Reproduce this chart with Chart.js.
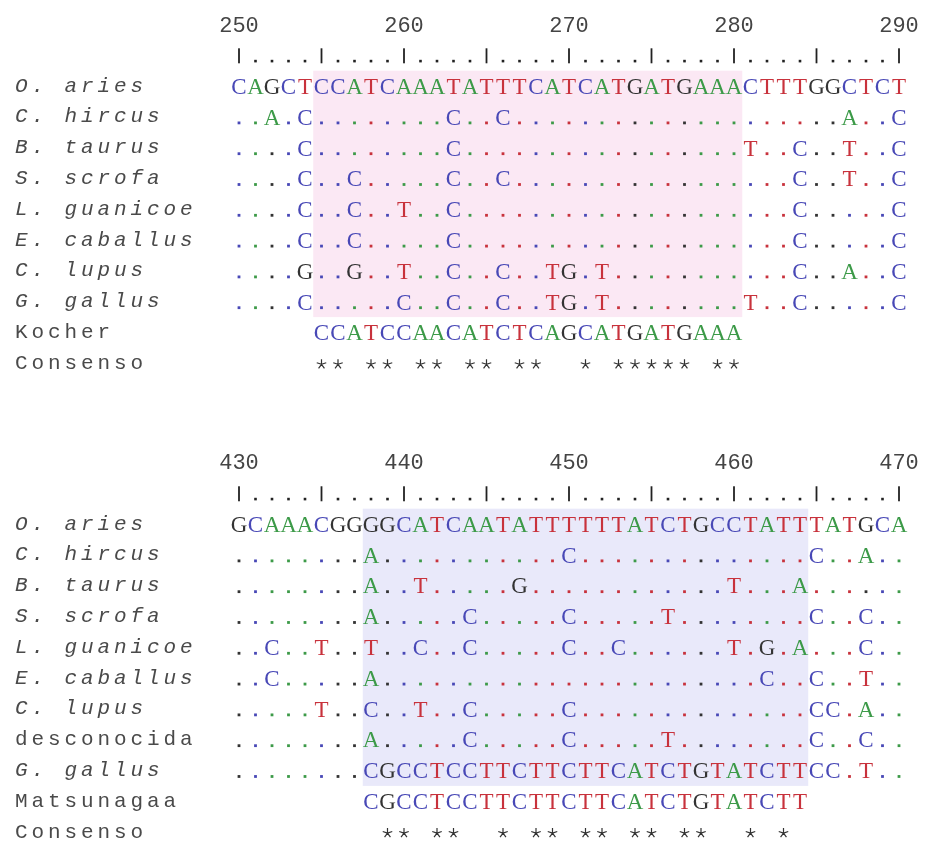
<!DOCTYPE html>
<html>
<head>
<meta charset="utf-8">
<script src="https://cdn.jsdelivr.net/npm/chart.js@4.4.1/dist/chart.umd.min.js"></script>
<style>
  html, body { margin: 0; padding: 0; background: #fff; }
  #wrap { width: 929px; height: 846px; }
</style>
</head>
<body>
<div id="wrap"><canvas id="alignment" width="929" height="846"></canvas></div>
<script>
// first block: positions 250-290, Kocher primer
const topStart = 250;
const topTicks = [250, 260, 270, 280, 290];
const topNames = ["O. aries", "C. hircus", "B. taurus", "S. scrofa", "L. guanicoe", "E. caballus", "C. lupus", "G. gallus", "Kocher", "Consenso"];
const topSeqs = [
  "CAGCTCCATCAAATATTTCATCATGATGAAACTTTGGCTCT",
  "..A.C........C..C....................A..C",
  "....C........C.................T..C..T..C",
  "....C..C.....C..C.................C..T..C",
  "....C..C..T..C....................C.....C",
  "....C..C.....C....................C.....C",
  "....G..G..T..C..C..TG.T...........C..A..C",
  "....C.....C..C..C..TG.T........T..C.....C",
  "     CCATCCAACATCTCAGCATGATGAAA          ",
  "     ** ** ** ** **  * ***** **          "
];
const topBox = [255, 280];

// second block: positions 430-470, Matsunagaa primer
const bottomStart = 430;
const bottomTicks = [430, 440, 450, 460, 470];
const bottomNames = ["O. aries", "C. hircus", "B. taurus", "S. scrofa", "L. guanicoe", "E. caballus", "C. lupus", "desconocida", "G. gallus", "Matsunagaa", "Consenso"];
const bottomSeqs = [
  "GCAAACGGGGCATCAATATTTTTTATCTGCCTATTTATGCA",
  "........A...........C..............C..A..",
  "........A..T.....G............T...A......",
  "........A.....C.....C.....T........C..C..",
  "..C..T..T..C..C.....C..C......T.G.A...C..",
  "..C.....A.......................C..C..T..",
  ".....T..C..T..C.....C..............CC.A..",
  "........A.....C.....C.....T........C..C..",
  "........CGCCTCCTTCTTCTTCATCTGTATCTTCC.T..",
  "        CGCCTCCTTCTTCTTCATCTGTATCTT      ",
  "         ** **  * ** ** ** **  * *       "
];
const bottomBox = [438, 464];

const baseColors = { A: "#3c9a48", C: "#4848b6", G: "#333333", T: "#c8323c" };

// layout in row units / columns
const colWidth = 16.5;
const rowHeight = 30.8;
const firstColPx = 239;
const blocks = [
  { axis: "x", start: topStart, ticks: topTicks, names: topNames, seqs: topSeqs, box: topBox, row0: 0, shade: "#fbe8f4" },
  { axis: "x2", start: bottomStart, ticks: bottomTicks, names: bottomNames, seqs: bottomSeqs, box: bottomBox, row0: 14.22, shade: "#e9e9fa" }
];

const datasets = [];
const nameRows = [];
const nameList = [];

blocks.forEach(function (b) {
  datasets.push({
    kind: "number", xAxisID: b.axis,
    data: b.ticks.map(t => ({ x: t, y: b.row0 })),
    chars: b.ticks.map(String)
  });
  const ruler = [];
  for (let p = b.ticks[0]; p <= b.ticks[b.ticks.length - 1]; p++) ruler.push({ x: p, y: b.row0 + 1 });
  datasets.push({
    kind: "ruler", xAxisID: b.axis, data: ruler,
    chars: ruler.map(pt => ((pt.x - b.start) % 5 === 0 ? "|" : "."))
  });
  b.seqs.forEach(function (seq, r) {
    const pts = [];
    const chars = [];
    const refs = [];
    for (let c = 0; c < seq.length; c++) {
      if (seq[c] === " ") continue;
      pts.push({ x: b.start + c, y: b.row0 + 2 + r });
      chars.push(seq[c]);
      refs.push(b.seqs[0][c]);
    }
    datasets.push({
      kind: b.names[r] === "Consenso" ? "star" : "seq",
      xAxisID: b.axis, data: pts, chars: chars, refs: refs
    });
    nameRows.push(b.row0 + 2 + r);
    nameList.push(b.names[r]);
  });
  b.shadeRows = b.names.indexOf("G. gallus") + 1;
});

function drawStar(ctx, x, y, r) {
  ctx.beginPath();
  for (let k = 0; k < 5; k++) {
    const a = -Math.PI / 2 + k * 2 * Math.PI / 5;
    ctx.moveTo(x, y);
    ctx.lineTo(x + r * Math.cos(a), y + r * Math.sin(a));
  }
  ctx.stroke();
}

const alignPlugin = {
  id: "align",
  beforeDraw(chart) {
    chart.ctx.letterSpacing = "3.9px";
  },
  beforeDatasetsDraw(chart) {
    const ctx = chart.ctx;
    const yScale = chart.scales.y;
    blocks.forEach(function (b) {
      const xs = chart.scales[b.axis];
      const left = xs.getPixelForValue(b.box[0] - 0.5);
      const right = xs.getPixelForValue(b.box[1] + 0.5);
      const top = yScale.getPixelForValue(b.row0 + 1.5);
      const bottom = yScale.getPixelForValue(b.row0 + 1.5 + b.shadeRows);
      ctx.save();
      ctx.fillStyle = b.shade;
      ctx.fillRect(left, top, right - left, bottom - top);
      ctx.restore();
    });
  },
  afterDatasetsDraw(chart) {
    const ctx = chart.ctx;
    ctx.save();
    ctx.letterSpacing = "0px";
    ctx.textAlign = "center";
    ctx.textBaseline = "alphabetic";
    chart.data.datasets.forEach(function (ds, i) {
      const meta = chart.getDatasetMeta(i);
      meta.data.forEach(function (pt, j) {
        const ch = ds.chars[j];
        const x = pt.x, y = pt.y;
        if (ds.kind === "number") {
          ctx.font = "22px 'Liberation Mono'";
          ctx.fillStyle = "#444";
          ctx.fillText(ch, x, y + 7);
        } else if (ds.kind === "ruler") {
          ctx.fillStyle = "#222";
          if (ch === "|") ctx.fillRect(x - 0.9, y - 7, 1.8, 15);
          else ctx.fillRect(x - 1.3, y + 4.5, 2.6, 2.6);
        } else if (ds.kind === "star") {
          ctx.strokeStyle = "#333";
          ctx.lineWidth = 1.2;
          drawStar(ctx, x, y + 1, 5);
        } else if (ch === ".") {
          ctx.fillStyle = baseColors[ds.refs[j]];
          ctx.fillRect(x - 1.4, y + 4.6, 2.8, 2.8);
        } else {
          ctx.font = "23px 'Liberation Serif'";
          ctx.fillStyle = baseColors[ch];
          ctx.fillText(ch, x, y + 7.8);
        }
      });
    });
    ctx.restore();
  },
  afterDraw(chart) {
    chart.ctx.letterSpacing = "0px";
  }
};

const chartWidth = 929 - 15 - 210;
const xMinOffset = (firstColPx - 225) / colWidth;
const xSpan = chartWidth / colWidth;
const yMin = -24.5 / rowHeight;
const ySpan = 846 / rowHeight;

new Chart(document.getElementById("alignment"), {
  type: "scatter",
  data: { datasets: datasets },
  options: {
    responsive: false,
    animation: false,
    devicePixelRatio: 1,
    events: [],
    layout: { padding: { left: 15, right: 0, top: 0, bottom: 0 }, autoPadding: false },
    elements: { point: { radius: 0, hoverRadius: 0 } },
    plugins: { legend: { display: false }, tooltip: { enabled: false } },
    scales: {
      x: { type: "linear", display: false, min: topStart - xMinOffset, max: topStart - xMinOffset + xSpan },
      x2: { type: "linear", display: false, min: bottomStart - xMinOffset, max: bottomStart - xMinOffset + xSpan },
      y: {
        type: "linear",
        reverse: true,
        min: yMin,
        max: yMin + ySpan,
        grid: { display: false },
        border: { display: false },
        afterBuildTicks: function (axis) {
          axis.ticks = nameRows.map(v => ({ value: v }));
        },
        afterFit: function (axis) {
          axis.width = 210;
          axis.paddingTop = 0;
          axis.paddingBottom = 0;
        },
        ticks: {
          autoSkip: false,
          crossAlign: "far",
          color: "#4a4a4a",
          font: function (ctx) {
            const name = nameList[ctx.index] || "";
            return { family: "'Liberation Mono'", size: 21, style: /^[A-Z]\. /.test(name) ? "italic" : "normal" };
          },
          callback: function (value, index) {
            return nameList[index];
          }
        }
      }
    }
  },
  plugins: [alignPlugin]
});
</script>
</body>
</html>
